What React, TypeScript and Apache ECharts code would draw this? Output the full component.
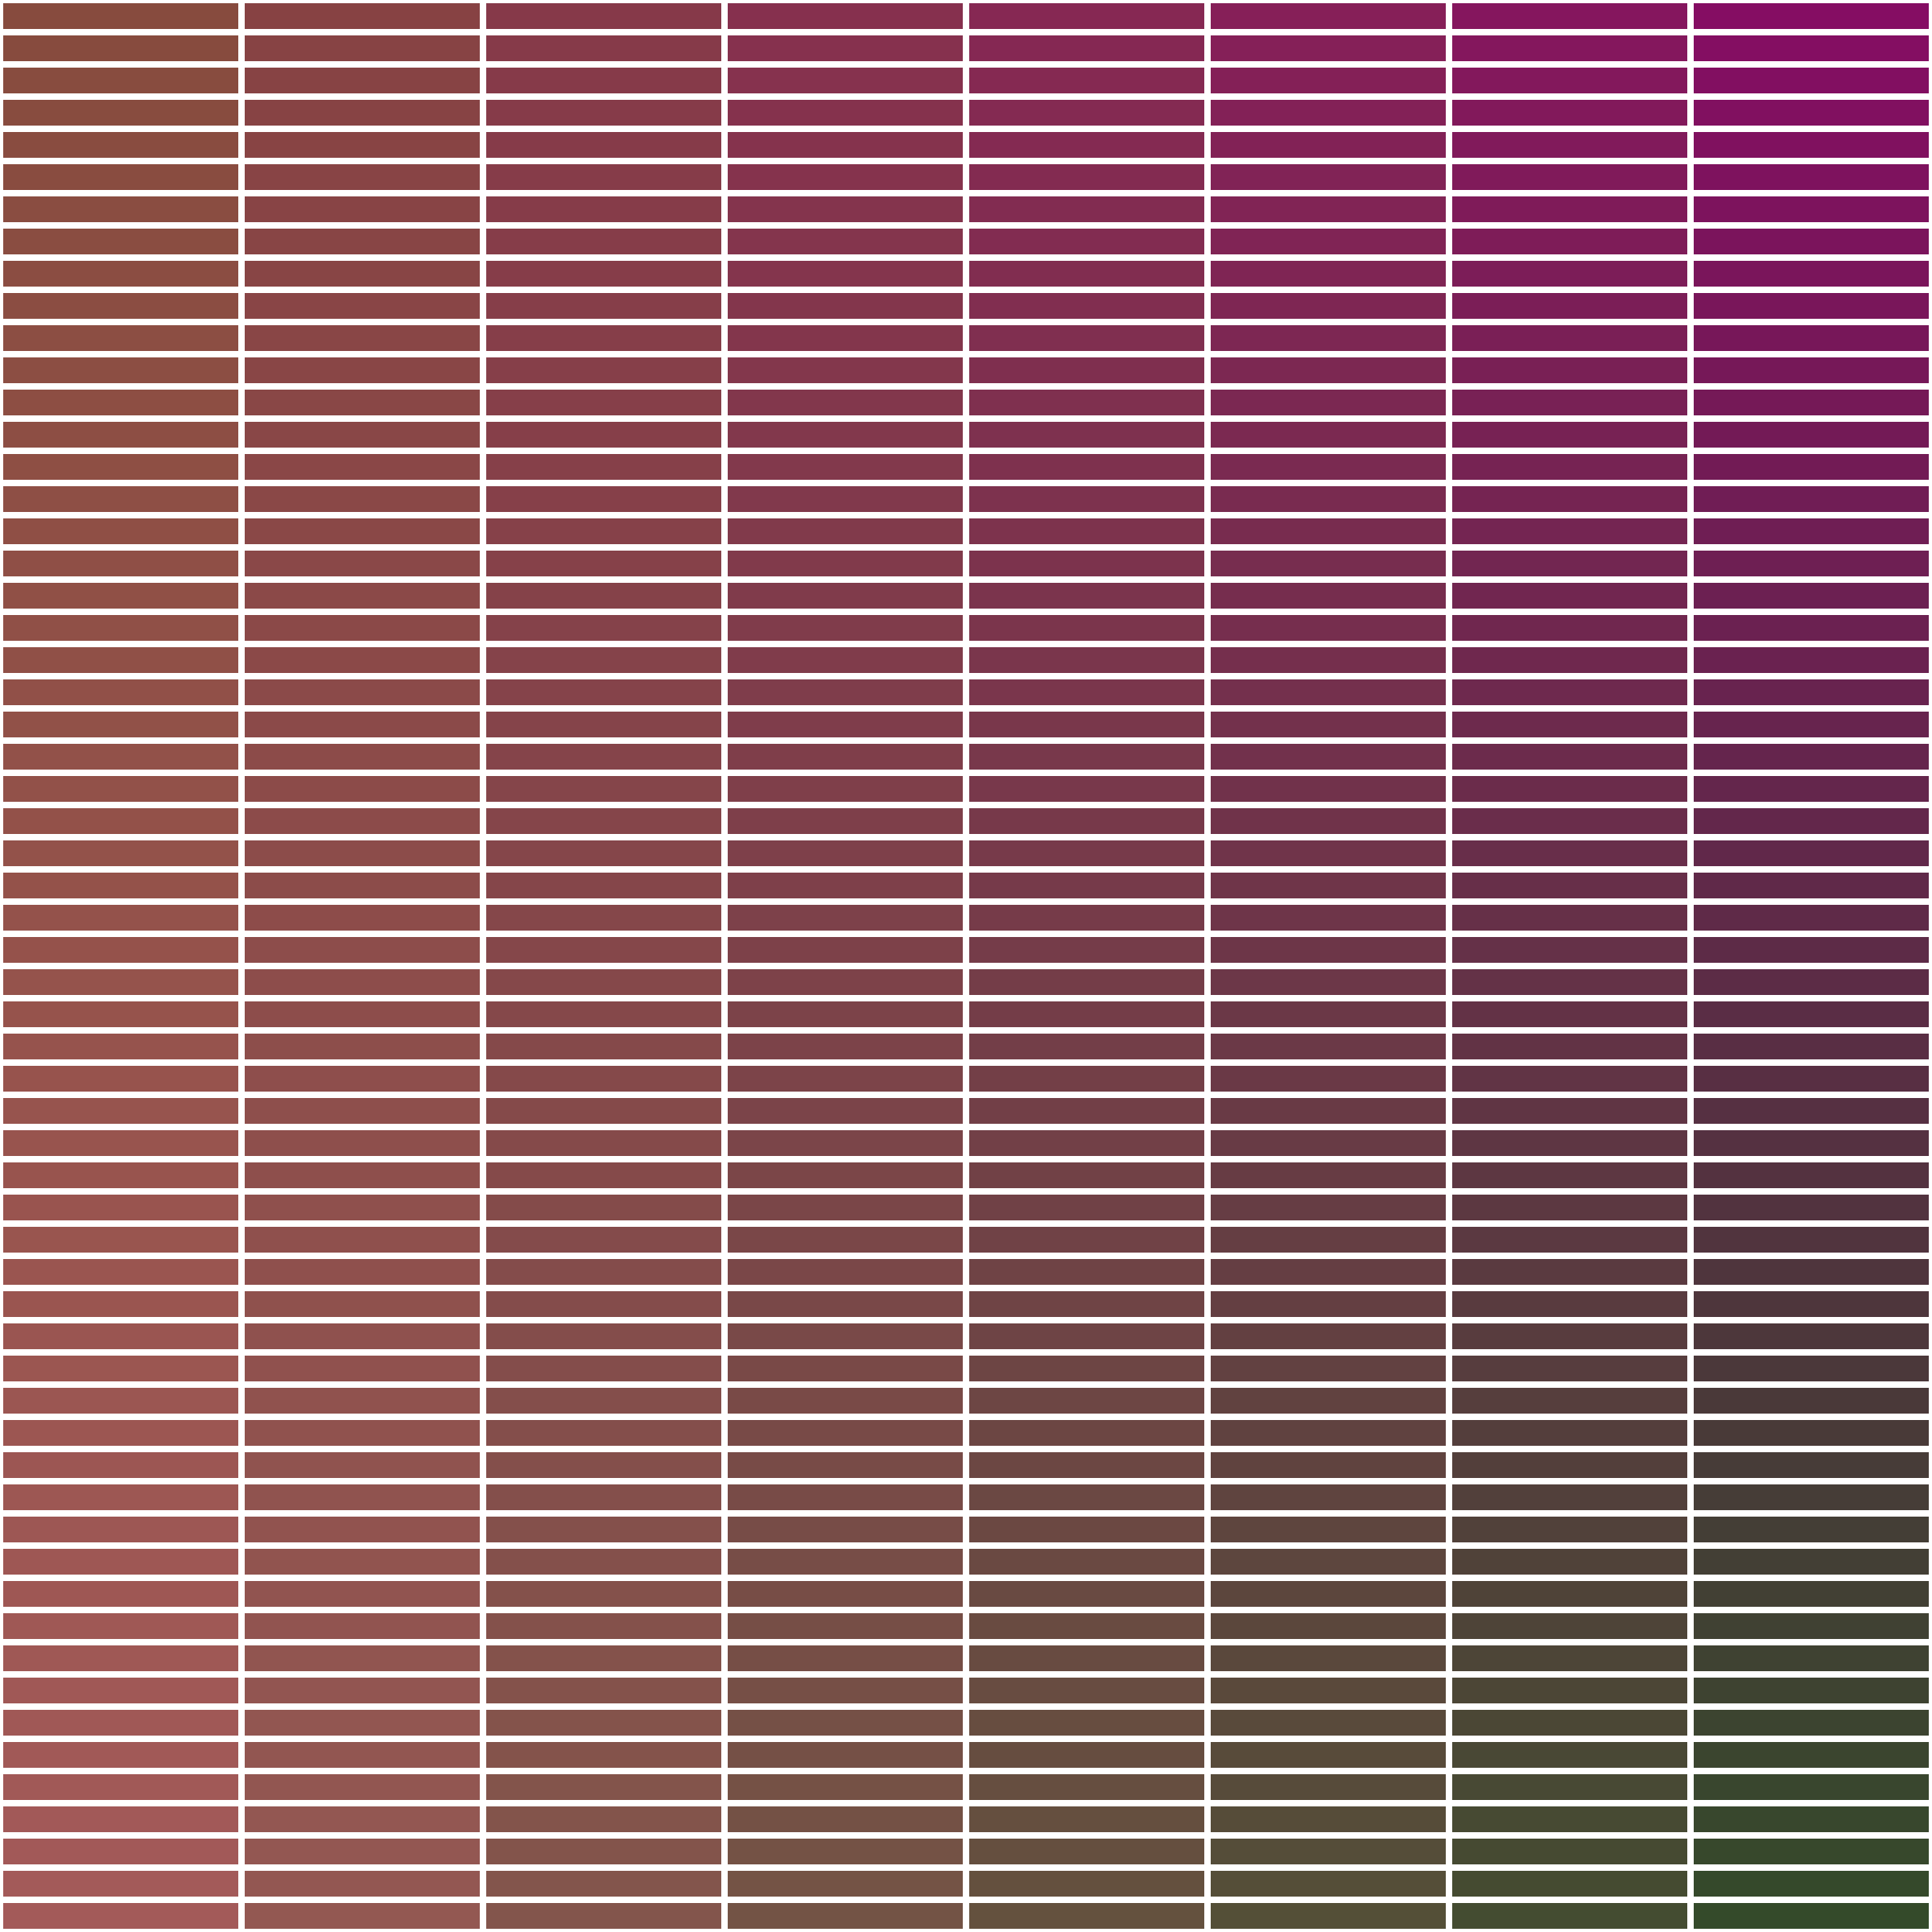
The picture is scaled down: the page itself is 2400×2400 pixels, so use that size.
import React, { useEffect, useRef } from "react";
import * as echarts from "echarts";

// Categories
const columns: string[] = ["C1", "C2", "C3", "C4", "C5", "C6", "C7", "C8"];
const rows: string[] = Array.from({ length: 60 }, (_, i) => `R${i + 1}`);

// Corner colours of the bivariate palette (top-left, top-right, bottom-left, bottom-right)
const cornerTL: number[] = [135, 75, 62];
const cornerTR: number[] = [133, 13, 99];
const cornerBL: number[] = [163, 90, 89];
const cornerBR: number[] = [52, 74, 42];

function mix(a: number[], b: number[], t: number): number[] {
  return a.map((v, k) => v + (b[k] - v) * t);
}

function cellColor(ci: number, ri: number): string {
  const u = ci / (columns.length - 1);
  const v = ri / (rows.length - 1);
  const top = mix(cornerTL, cornerTR, u);
  const bottom = mix(cornerBL, cornerBR, u);
  const c = mix(top, bottom, v).map((x) => Math.round(x));
  return `rgb(${c[0]},${c[1]},${c[2]})`;
}

export default function App() {
  const ref = useRef<HTMLDivElement>(null);
  useEffect(() => {
    document.body.style.margin = "0";
    const chart = echarts.init(ref.current!, undefined, { renderer: "svg" });
    const data: any[] = [];
    rows.forEach((r, ri) => {
      columns.forEach((c, ci) => {
        data.push({ value: [ci, ri], itemStyle: { color: cellColor(ci, ri) } });
      });
    });
    chart.setOption({
      animation: false,
      backgroundColor: "#ffffff",
      grid: { left: 0, right: 0, top: 0, bottom: 0, containLabel: false },
      xAxis: {
        type: "category",
        data: columns,
        show: false,
        boundaryGap: true,
      },
      yAxis: {
        type: "category",
        data: rows,
        show: false,
        inverse: true,
        boundaryGap: true,
      },
      series: [
        {
          type: "custom",
          data,
          renderItem: (params: any, api: any) => {
            const x = api.value(0);
            const y = api.value(1);
            const center = api.coord([x, y]);
            const size = api.size([1, 1]);
            const pad = 4;
            return {
              type: "rect",
              shape: {
                x: center[0] - size[0] / 2 + pad,
                y: center[1] - size[1] / 2 + pad,
                width: size[0] - 2 * pad,
                height: size[1] - 2 * pad,
              },
              style: { fill: api.visual("color") },
            };
          },
        },
      ],
    });
    return () => chart.dispose();
  }, []);
  return (
    <div
      ref={ref}
      style={{ position: "absolute", left: 0, top: 0, width: 2400, height: 2400 }}
    />
  );
}
